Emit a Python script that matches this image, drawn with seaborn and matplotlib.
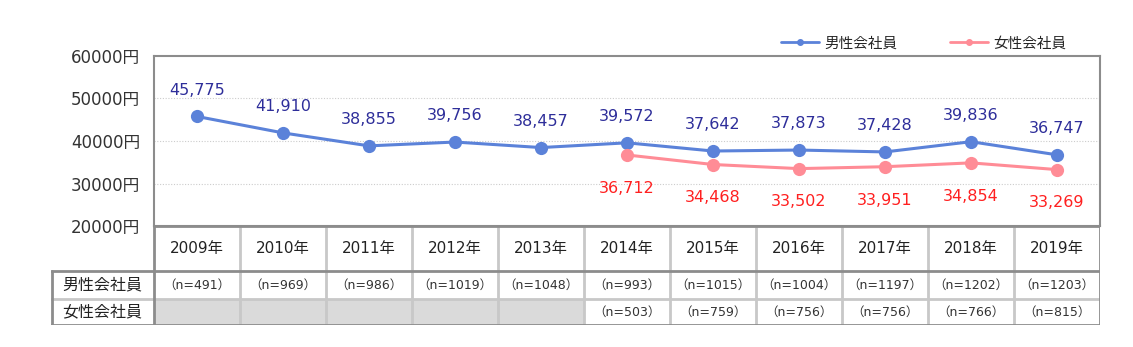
import matplotlib
matplotlib.use("Agg")
import matplotlib.pyplot as plt
from matplotlib.lines import Line2D
from matplotlib.patches import Rectangle
import seaborn as sns
import pandas as pd
import numpy as np

years = ["2009年", "2010年", "2011年", "2012年", "2013年", "2014年", "2015年", "2016年", "2017年", "2018年", "2019年"]
male = [45775, 41910, 38855, 39756, 38457, 39572, 37642, 37873, 37428, 39836, 36747]
female = [None, None, None, None, None, 36712, 34468, 33502, 33951, 34854, 33269]
male_n = ["（n=491）", "（n=969）", "（n=986）", "（n=1019）", "（n=1048）", "（n=993）", "（n=1015）", "（n=1004）", "（n=1197）", "（n=1202）", "（n=1203）"]
female_n = [None, None, None, None, None, "（n=503）", "（n=759）", "（n=756）", "（n=756）", "（n=766）", "（n=815）"]
series_names = ["男性会社員", "女性会社員"]
yticks = [20000, 30000, 40000, 50000, 60000]

sns.set_theme(style="white")
plt.rcParams['font.family'] = ['DejaVu Sans', 'Noto Sans CJK JP']

BLUE = "#5B82D9"
PINK = "#FF8C96"
BLUE_TXT = "#2E2E9A"
RED_TXT = "#FF2020"

rows = []
for i, y in enumerate(years):
    rows.append({"x": i, "year": y, "value": male[i], "series": series_names[0]})
    if female[i] is not None:
        rows.append({"x": i, "year": y, "value": female[i], "series": series_names[1]})
df = pd.DataFrame(rows)

W, H = 1133, 347
fig = plt.figure(figsize=(W / 100, H / 100), dpi=100)

L, R, T, B = 154, 1100, 56, 226
ax = fig.add_axes([L / W, 1 - B / H, (R - L) / W, (B - T) / H])
sns.lineplot(data=df, x="x", y="value", hue="series", palette=[BLUE, PINK],
             marker="o", markersize=9.5, markeredgewidth=0, linewidth=2.2,
             legend=False, ax=ax, zorder=3)
ax.set_xlim(-0.5, len(years) - 0.5)
ax.set_ylim(20000, 60000)
ax.set_yticks(yticks)
ax.set_yticklabels([f"{v}円" for v in yticks], fontsize=12, color="#333333")
ax.set_xticks([])
ax.set_xlabel("")
ax.set_ylabel("")
ax.tick_params(axis="y", length=0, pad=10)
for v in [30000, 40000, 50000]:
    ax.axhline(v, color="#cccccc", lw=0.8, ls=(0, (1, 1.5)), zorder=1)
for s in ax.spines.values():
    s.set_color("#8c8c8c")
    s.set_linewidth(1.5)

for i, v in enumerate(male):
    ax.annotate(f"{v:,}", (i, v), xytext=(0, 19), textcoords="offset points",
                ha="center", va="center", fontsize=11.5, color=BLUE_TXT)
for i, v in enumerate(female):
    if v is not None:
        ax.annotate(f"{v:,}", (i, v), xytext=(0, -24), textcoords="offset points",
                    ha="center", va="center", fontsize=11.5, color=RED_TXT)

# legend
handles = [Line2D([0], [0], color=BLUE, lw=2, marker="o", markersize=4),
           Line2D([0], [0], color=PINK, lw=2, marker="o", markersize=4)]
fig.legend(handles, series_names, loc="center right", bbox_to_anchor=(1080 / W, 1 - 43 / H),
           ncol=2, frameon=False, fontsize=10.5, handlelength=2.6, columnspacing=3.6,
           handletextpad=0.4)

# table
TL, TT, TB = 51, 226, 325
tax = fig.add_axes([TL / W, 1 - TB / H, (R - TL) / W, (TB - TT) / H])
colw = (R - L) / len(years)
x0 = -0.5 - (L - TL) / colw
tax.set_xlim(x0, len(years) - 0.5)
tax.set_ylim(TB - TT, 0)
tax.axis("off")
r1, r2, r3 = 45, 73, 99
dark = "#8c8c8c"
light = "#c8c8c8"

for i, y in enumerate(years):
    tax.text(i, r1 / 2, y, ha="center", va="center", fontsize=11, color="#222222")
    tax.text(i, (r1 + r2) / 2, male_n[i], ha="center", va="center", fontsize=9, color="#333333")
    if female_n[i] is None:
        tax.add_patch(Rectangle((i - 0.5, r2), 1, r3 - r2, facecolor="#dadada", edgecolor="none", zorder=0))
    else:
        tax.text(i, (r2 + r3) / 2, female_n[i], ha="center", va="center", fontsize=9, color="#333333")
tax.text((x0 - 0.5) / 2, (r1 + r2) / 2, series_names[0], ha="center", va="center", fontsize=11.5, color="#222222")
tax.text((x0 - 0.5) / 2, (r2 + r3) / 2, series_names[1], ha="center", va="center", fontsize=11.5, color="#222222")

# inner vertical separators
for i in range(1, len(years)):
    tax.plot([i - 0.5, i - 0.5], [0, r3], color=light, lw=2, zorder=1, solid_capstyle="butt")
# inner horizontal separator
tax.plot([-0.5, len(years) - 0.5], [r2, r2], color=light, lw=2, zorder=1)
tax.plot([x0, -0.5], [r2, r2], color=light, lw=2, zorder=1)
# outer borders
tax.plot([-0.5, len(years) - 0.5], [0, 0], color=dark, lw=2, zorder=2)
tax.plot([x0, len(years) - 0.5], [r1, r1], color=dark, lw=2, zorder=2)
tax.plot([x0, len(years) - 0.5], [r3, r3], color=dark, lw=2, zorder=2)
tax.plot([-0.5, -0.5], [0, r3], color=dark, lw=2, zorder=2)
tax.plot([len(years) - 0.5, len(years) - 0.5], [0, r3], color=dark, lw=2, zorder=2)
tax.plot([x0 + 0.01, x0 + 0.01], [r1, r3], color=dark, lw=2, zorder=2)

fig.savefig("out.png", dpi=100)
